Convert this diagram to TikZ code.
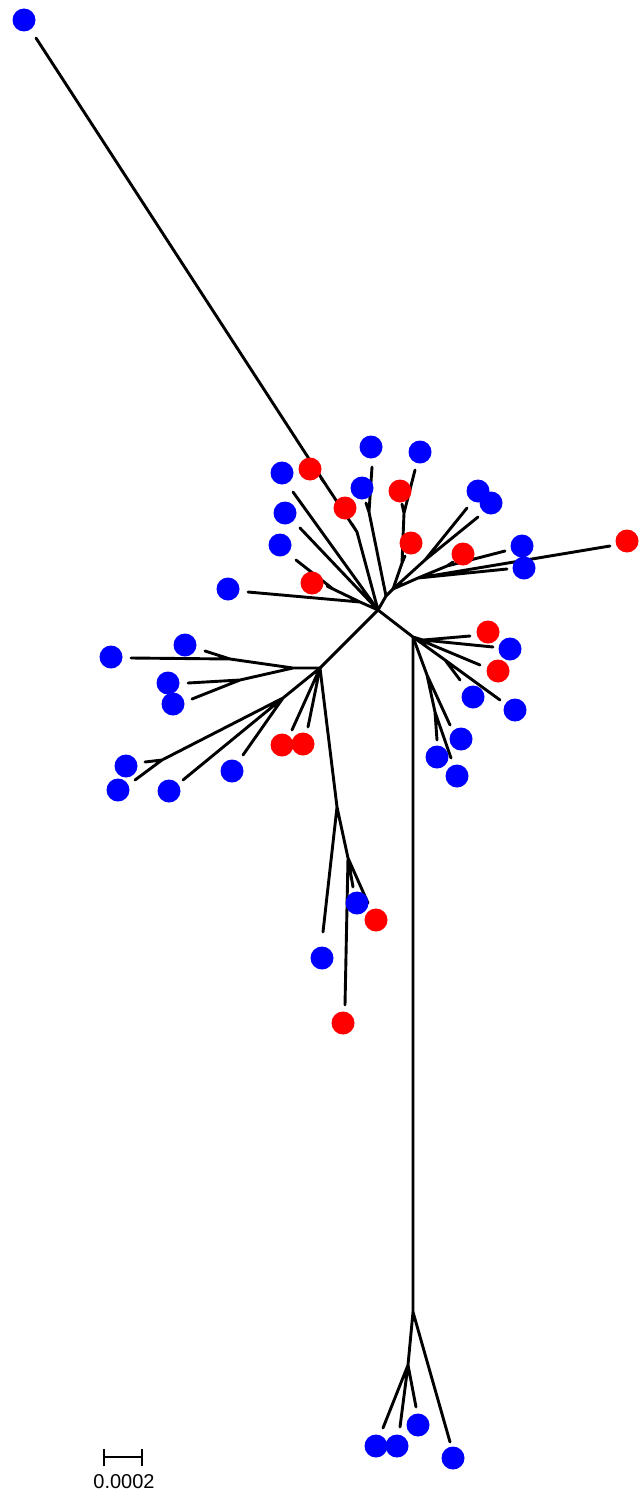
\documentclass[tikz,border=0pt]{standalone}
\usepackage{fontspec}
\setmainfont{Liberation Sans}
\begin{document}
\begin{tikzpicture}[x=1pt,y=-1pt,
  br/.style={line width=2.9pt,line cap=round,line join=round},
  bd/.style={circle,fill=blue,draw=none,inner sep=0pt,minimum size=23pt},
  rd/.style={circle,fill=red,draw=none,inner sep=0pt,minimum size=23pt}]
\fill[white] (0,0) rectangle (641,1493);
\useasboundingbox (0,0) rectangle (641,1493);
% internal nodes
\coordinate (C) at (378,610);
\coordinate (N2) at (386,596);
\coordinate (N3) at (393,589);
\coordinate (K) at (357,532);
\coordinate (K2) at (326,485);
\coordinate (Q) at (369,512);
\coordinate (P1) at (402,563);
\coordinate (P2) at (404,513);
\coordinate (J) at (360,602);
\coordinate (J3) at (333,589);
\coordinate (U5) at (425,560);
\coordinate (U3) at (418,578);
\coordinate (U4) at (447,566);
\coordinate (R) at (413,637);
\coordinate (RA) at (423,640);
\coordinate (RB) at (445,660);
\coordinate (RD) at (427,675);
\coordinate (RE) at (435,712);
\coordinate (L) at (320,668);
\coordinate (L2) at (293,668);
\coordinate (LA) at (230,659);
\coordinate (LB) at (240,680);
\coordinate (LC) at (283,698);
\coordinate (LF) at (162,760);
\coordinate (M1) at (337,807);
\coordinate (M2) at (348,858);
\coordinate (BT) at (413,1312);
\coordinate (BT2) at (408,1365);
% tips
\coordinate (tb1) at (36,38);
\coordinate (tr1) at (321,478);
\coordinate (tr3) at (352,524);
\coordinate (tb2) at (372,467);
\coordinate (tb5) at (366,503);
\coordinate (tb3) at (415,470);
\coordinate (tr2) at (402,504);
\coordinate (tr4) at (405,556);
\coordinate (tb4) at (293,492);
\coordinate (tb8) at (300,528);
\coordinate (tb9) at (296,560);
\coordinate (tr7) at (327,586);
\coordinate (tb12) at (248,592);
\coordinate (tb6) at (467,508);
\coordinate (tb7) at (478,517);
\coordinate (tb10) at (505,551);
\coordinate (tb11) at (507,569);
\coordinate (tr5) at (453,562);
\coordinate (tr6) at (610,546);
\coordinate (tr8) at (470,636);
\coordinate (tb17) at (493,647);
\coordinate (tr9) at (480,665);
\coordinate (tb18) at (460,680);
\coordinate (tb19) at (500,700);
\coordinate (tb20) at (450,725);
\coordinate (tb23) at (437,740);
\coordinate (tb26) at (451,758);
\coordinate (tb13) at (205,651);
\coordinate (tb14) at (131,658);
\coordinate (tb15) at (188,683);
\coordinate (tb16) at (192,699);
\coordinate (tr10) at (292,730);
\coordinate (tr11) at (308,727);
\coordinate (tb21) at (243,755);
\coordinate (tb22) at (145,762);
\coordinate (tb24) at (135,780);
\coordinate (tb25) at (183,780);
\coordinate (tb27) at (353,887);
\coordinate (tr12) at (368,903);
\coordinate (tb28) at (323,932);
\coordinate (tr13) at (345,1005);
\coordinate (tb29) at (416,1407);
\coordinate (tb30) at (383,1428);
\coordinate (tb31) at (400,1427);
\coordinate (tb32) at (450,1442);
% branches
\draw[br] (C)--(N2) (N2)--(N3) (C)--(K) (K)--(K2) (K2)--(tb1) (K2)--(tr1) (K)--(tr3);
\draw[br] (N2)--(Q) (Q)--(tb2) (Q)--(tb5);
\draw[br] (N3)--(P1) (P1)--(P2) (P2)--(tb3) (P2)--(tr2) (P1)--(tr4);
\draw[br] (C)--(tb4) (C)--(tb8) (C)--(J) (J)--(tb12) (J)--(J3) (J3)--(tb9) (J3)--(tr7);
\draw[br] (N3)--(U5) (U5)--(tb6) (U5)--(tb7) (N3)--(U3) (U3)--(tr6) (U3)--(tb11) (U3)--(U4) (U4)--(tb10) (U4)--(tr5);
\draw[br] (C)--(R) (R)--(BT) (R)--(RA) (RA)--(tr8) (RA)--(tb17) (R)--(tr9) (R)--(RB) (RB)--(tb19) (RB)--(tb18);
\draw[br] (R)--(RD) (RD)--(tb20) (RD)--(RE) (RE)--(tb23) (RE)--(tb26);
\draw[br] (C)--(L) (L)--(L2) (L2)--(LA) (LA)--(tb13) (LA)--(tb14) (L2)--(LB) (LB)--(tb15) (LB)--(tb16);
\draw[br] (L)--(tr10) (L)--(tr11) (L)--(LC) (LC)--(tb21) (LC)--(tb25) (LC)--(LF) (LF)--(tb22) (LF)--(tb24);
\draw[br] (L)--(M1) (M1)--(tb28) (M1)--(M2) (M2)--(tr13) (M2)--(tb27) (M2)--(tr12);
\draw[br] (BT)--(tb32) (BT)--(BT2) (BT2)--(tb30) (BT2)--(tb31) (BT2)--(tb29);
% dots
\node[bd] (db1) at (24,20) {};
\node[bd] (db2) at (371,447) {};
\node[bd] (db3) at (420,452) {};
\node[bd] (db4) at (282,473) {};
\node[bd] (db5) at (362,488) {};
\node[bd] (db6) at (478,491) {};
\node[bd] (db7) at (491,503) {};
\node[bd] (db8) at (285,513) {};
\node[bd] (db9) at (280,545) {};
\node[bd] (db10) at (522,546) {};
\node[bd] (db11) at (524,568) {};
\node[bd] (db12) at (228,589) {};
\node[bd] (db13) at (185,645) {};
\node[bd] (db14) at (111,657) {};
\node[bd] (db15) at (168,683) {};
\node[bd] (db16) at (173,704) {};
\node[bd] (db17) at (510,649) {};
\node[bd] (db18) at (473,697) {};
\node[bd] (db19) at (515,710) {};
\node[bd] (db20) at (461,739) {};
\node[bd] (db21) at (232,771) {};
\node[bd] (db22) at (126,766) {};
\node[bd] (db23) at (437,757) {};
\node[bd] (db24) at (118,790) {};
\node[bd] (db25) at (169,791) {};
\node[bd] (db26) at (457,776) {};
\node[bd] (db27) at (357,903) {};
\node[bd] (db28) at (322,958) {};
\node[bd] (db29) at (418,1425) {};
\node[bd] (db30) at (376,1446) {};
\node[bd] (db31) at (397,1446) {};
\node[bd] (db32) at (453,1458) {};
\node[rd] (dr1) at (310,469) {};
\node[rd] (dr2) at (400,491) {};
\node[rd] (dr3) at (345,508) {};
\node[rd] (dr4) at (411,543) {};
\node[rd] (dr5) at (463,554) {};
\node[rd] (dr6) at (627,541) {};
\node[rd] (dr7) at (312,583) {};
\node[rd] (dr8) at (488,632) {};
\node[rd] (dr9) at (498,671) {};
\node[rd] (dr10) at (282,745) {};
\node[rd] (dr11) at (303,744) {};
\node[rd] (dr12) at (376,920) {};
\node[rd] (dr13) at (343,1023) {};
% scale bar
\coordinate (s1) at (104,1457);
\coordinate (s2) at (142,1457);
\draw[line width=2.2pt] (s1)--(s2);
\draw[line width=2.2pt] ([yshift=-9pt]s1)--([yshift=8pt]s1);
\draw[line width=2.2pt] ([yshift=-9pt]s2)--([yshift=8pt]s2);
\node[inner sep=0pt,font=\fontsize{20}{20}\selectfont] (sl) at (124,1482) {0.0002};
\end{tikzpicture}
\end{document}
